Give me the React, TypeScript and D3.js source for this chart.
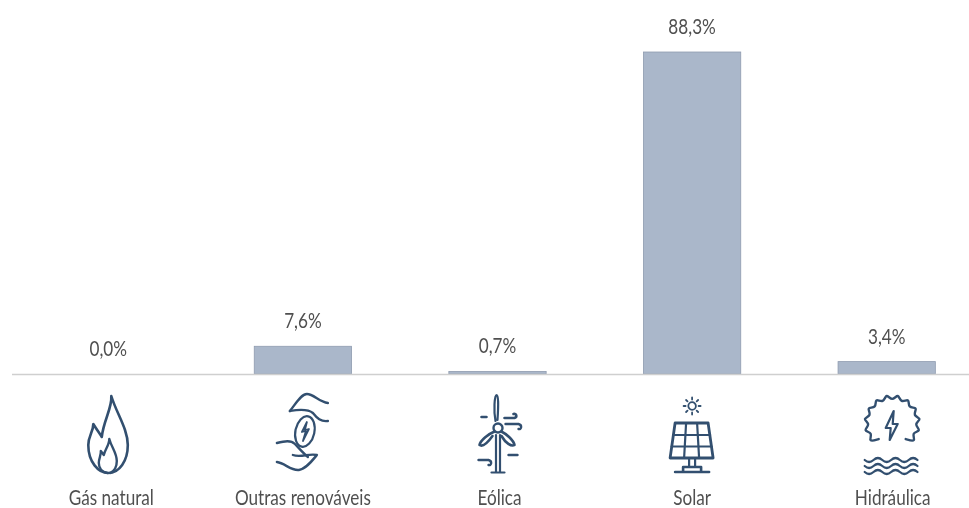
import { useEffect, useRef } from 'react';
import * as d3 from 'd3';

const categories = ['Gás natural', 'Outras renováveis', 'Eólica', 'Solar', 'Hidráulica'];
const values = [0.0, 7.6, 0.7, 88.3, 3.4];
const icons = ['flame', 'hands', 'turbine', 'solar', 'hydro'];

const ICON_COLOR = '#33506f';
const FONT = 'Lato, "Open Sans", sans-serif';

// category labels are not quite centred under the bars in the original
const labelNudge = [3, 0, 2, 0, 6];

// icons are drawn around a local origin, one per category
function drawIcon(g: d3.Selection<SVGGElement, unknown, null, undefined>, name: string) {
  const path = (d: string, w = 2.4) =>
    g.append('path')
      .attr('d', d)
      .attr('fill', 'none')
      .attr('stroke', ICON_COLOR)
      .attr('stroke-width', w)
      .attr('stroke-linecap', 'round')
      .attr('stroke-linejoin', 'round');

  if (name === 'flame') {
    path('M3,-39 C4,-27 -5,-14 -6.500,2 C-9,-2 -12,-6 -15,-11 C-15,-3 -20,1 -20,10 C-20,27 -10,38 0,38 C11,38 19.500,26 19.500,10 C19.500,-6 8,-22 3,-39 Z', 2.6);
    path('M1,4 C1,10 -3,14 -4.500,20 L-7.500,16 C-7,20 -9.500,23 -9.500,28 C-9.500,33 -6,37 -1,38 M1,4 C3,12 8.500,18 8.500,26 C8.500,31 6,36 2,38', 2.4);
  }
  if (name === 'hands') {
    g.append('ellipse')
      .attr('cx', 2).attr('cy', -3.5).attr('rx', 9.5).attr('ry', 15.5)
      .attr('transform', 'rotate(12 2 -3.500)')
      .attr('fill', 'none').attr('stroke', ICON_COLOR).attr('stroke-width', 2.2);
    path('M4,-13 L-1,-3 L3,-4 L0,6 L6,-6 L2,-5 Z', 1.8);
    path('M-13,-24 C-8,-30 -2,-41 4,-41 C11,-41 16,-33 25,-32');
    path('M-13,-24 C-7,-25 4,-27 10,-22 C14,-17 18,-13 25,-14');
    path('M-26,8 C-18,6 -12,5 -8,9 C-4,13 0,18 5,22');
    path('M-26,27 C-18,28 -12,36 -4,35 C3,34 9,26 14,20 C6,18 -2,23 -10,20');
  }
  if (name === 'turbine') {
    path('M-2,-14 C-4,-24 -3,-40 -1,-40 C1,-40 1,-30 0,-15', 2.2);
    path('M-2,-4 C-9,-1 -17,5 -18,10 C-15,12 -10,8 -5,1', 2.6);
    path('M3,-4 C9,-1 16,5 17,10 C14,12 8,8 4,1', 2.6);
    g.append('circle').attr('cx', 0.5).attr('cy', -7).attr('r', 4.5)
      .attr('fill', '#fff').attr('stroke', ICON_COLOR).attr('stroke-width', 2.4);
    path('M-1.500,0 L-1.500,37 M2.500,0 L2.500,37 M-6,37.500 L7,37.500', 2.2);
    path('M-16,-18 L-11,-18 M7,-17 L17,-17 C20,-18 19,-22 16,-21', 2.6);
    path('M8,-11 L21,-11 C25,-10 24,-5 21,-6', 2.4);
    path('M11,20 L20,20 M-19,25 L-9,25 C-5,26 -6,31 -9,30', 2.4);
  }
  if (name === 'solar') {
    g.append('circle').attr('cx', 0).attr('cy', -29).attr('r', 3.8)
      .attr('fill', 'none').attr('stroke', ICON_COLOR).attr('stroke-width', 1.8);
    d3.range(8).forEach(i => {
      const a = (i * Math.PI) / 4;
      path(`M${6.500 * Math.cos(a)},${-29 + 6.500 * Math.sin(a)} L${8.500 * Math.cos(a)},${-29 + 8.500 * Math.sin(a)}`, 1.8);
    });
    path('M-17,-12 L16,-12 L21,23 L-22,23 Z', 2.8);
    path('M-19,0 L18,0 M-20.500,11.500 L19.500,11.500 M-6,-12 L-8,23 M5,-12 L7,23', 2.2);
    path('M-3,23 L-3,32 M3,23 L3,32', 2.2);
    path('M-9,36 L-9,32 L9,32 L9,36 M-17,37 L17,37', 2.6);
  }
  if (name === 'hydro') {
    const gear: [number, number][] = d3.range(0, 25).map(i => {
      const a = (Math.PI * (130 + (i * 280) / 24)) / 180;
      const r = i % 2 === 0 ? 21 : 31;
      return [5.5 + r * Math.cos(a), -12 + r * Math.sin(a)];
    });
    path(d3.line().curve(d3.curveBasis)(gear) ?? '', 2.4);
    path('M7,-24 L-1,-7 L4,-7 L3,5 L11,-11 L6,-11 Z', 2.2);
    [25, 31, 37].forEach(y => {
      path(`M-22,${y} q4.400,4 8.800,0 t8.800,0 t8.800,0 t8.800,0 t8.800,0 t8.800,0`, 2.2);
    });
  }
}

export default function App() {
  const svgRef = useRef<SVGSVGElement>(null);

  useEffect(() => {
    if (!svgRef.current) return;

    const svg = d3.select(svgRef.current);
    svg.selectAll('*').remove();

    const baseline = 374;

    const x = d3.scaleBand<string>()
      .domain(categories)
      .range([11, 984])
      .paddingInner(0.5)
      .paddingOuter(0.25);

    const y = d3.scaleLinear()
      .domain([0, 88.3])
      .range([baseline, 52]);

    const defs = svg.append('defs');
    defs.append('filter').attr('id', 'soft')
      .append('feGaussianBlur').attr('stdDeviation', 0.6);

    const root = svg.append('g').attr('filter', 'url(#soft)');

    // Bars
    root.selectAll('.bar')
      .data(values)
      .enter()
      .append('rect')
      .attr('class', 'bar')
      .attr('x', (_, i) => x(categories[i]) ?? 0)
      .attr('y', d => y(d))
      .attr('width', x.bandwidth())
      .attr('height', d => baseline - y(d))
      .attr('fill', '#aab7ca')
      .attr('stroke', d => (d > 0 ? '#8f9cb0' : 'none'))
      .attr('stroke-width', 0.8);

    // Axis line
    root.append('line')
      .attr('x1', 12).attr('x2', 969)
      .attr('y1', baseline + 0.5).attr('y2', baseline + 0.5)
      .attr('stroke', '#cfcfcf')
      .attr('stroke-width', 1.5);

    const cx = (i: number) => (x(categories[i]) ?? 0) + x.bandwidth() / 2;

    // Value labels
    values.forEach((v, i) => {
      root.append('text')
        .attr('transform', `translate(${cx(i)},${y(v) - 18}) scale(0.78,1)`)
        .attr('text-anchor', 'middle')
        .attr('fill', '#505050')
        .style('font-family', FONT)
        .style('font-size', '22px')
        .text(`${v.toFixed(1).replace('.', ',')}%`);
    });

    // Icons and category labels
    categories.forEach((c, i) => {
      const icon = root.append('g')
        .attr('transform', `translate(${cx(i)},435)`);
      drawIcon(icon, icons[i]);

      root.append('text')
        .attr('transform', `translate(${cx(i) + labelNudge[i]},505) scale(0.78,1)`)
        .attr('text-anchor', 'middle')
        .attr('fill', '#505050')
        .style('font-family', FONT)
        .style('font-size', '22px')
        .text(c);
    });
  }, []);

  return (
    <svg
      ref={svgRef}
      width={969}
      height={508}
      style={{ position: 'absolute', left: 0, top: 0, background: '#fff' }}
    />
  );
}
